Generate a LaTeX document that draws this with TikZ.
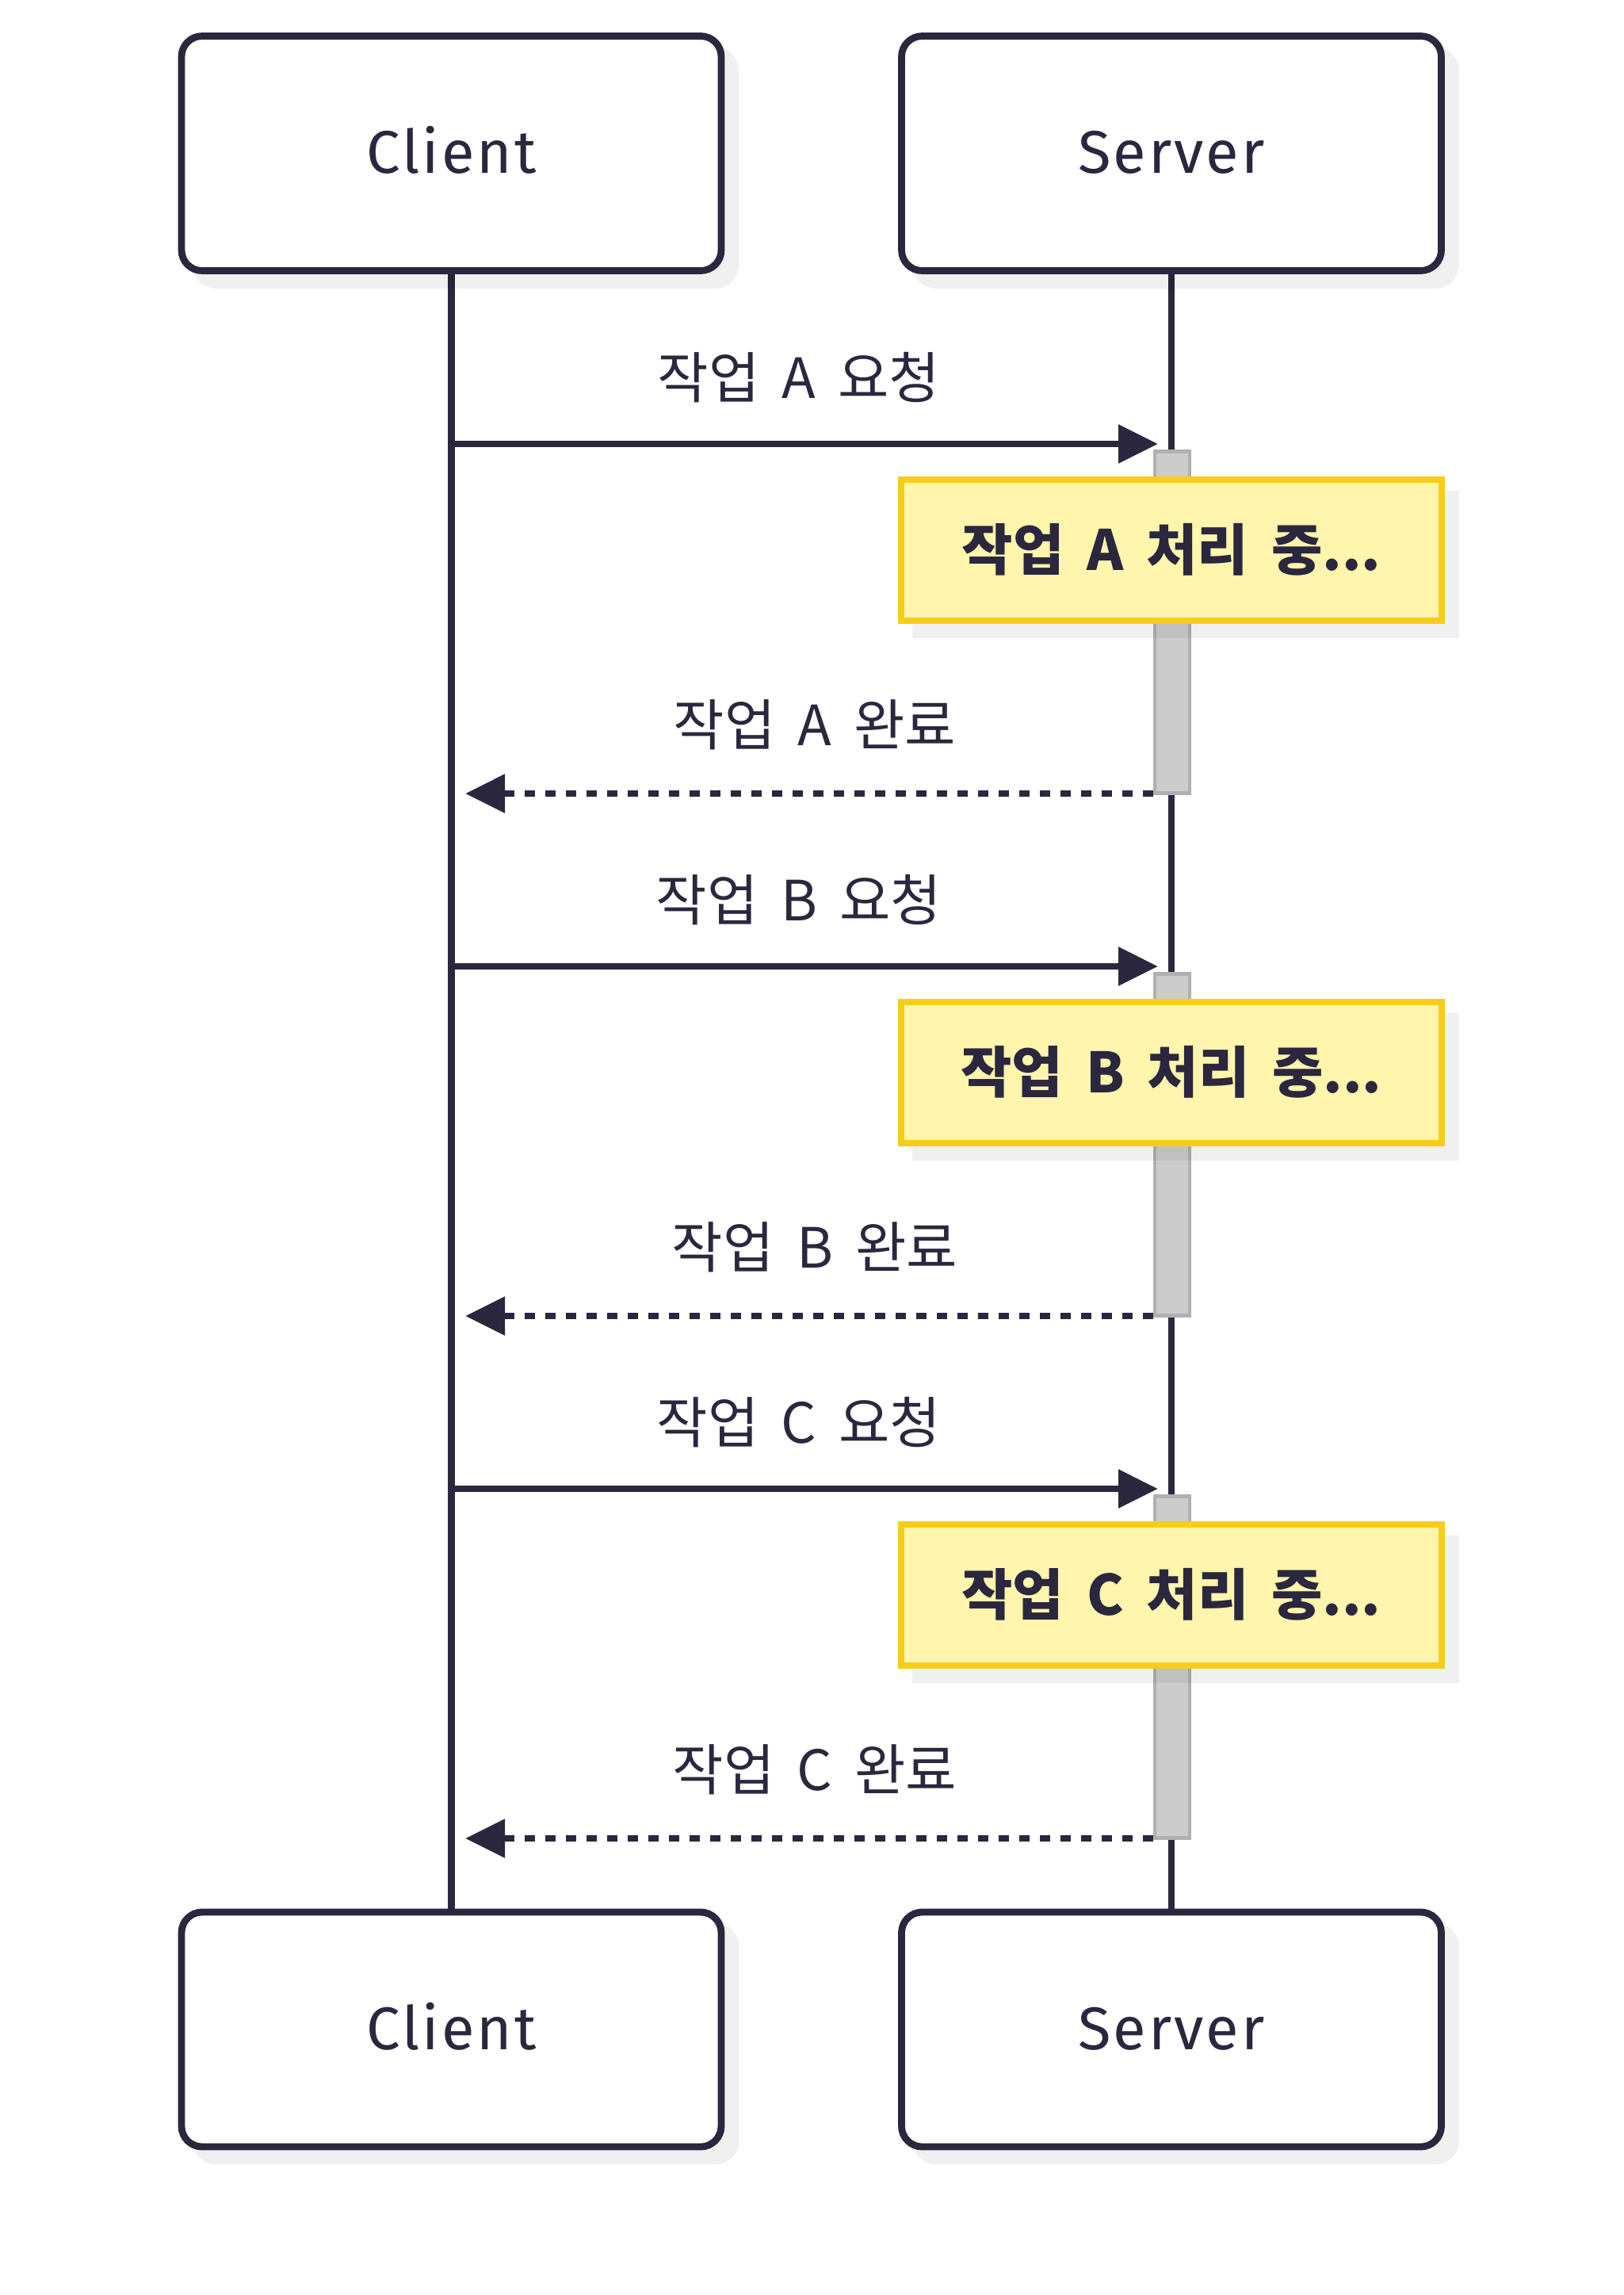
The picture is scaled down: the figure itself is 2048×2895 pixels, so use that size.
\documentclass[tikz,border=0pt]{standalone}
\usepackage{fontspec}
\setmainfont[LetterSpace=4]{Fira Sans}
\newfontfamily\krfont[WordSpace=1.8]{Noto Sans CJK KR}
\usetikzlibrary{arrows.meta, positioning}
\definecolor{ink}{HTML}{2A273E}
\definecolor{noteFill}{HTML}{FFF5AD}
\definecolor{noteLine}{HTML}{F8CD1A}
\definecolor{barFill}{HTML}{CCCCCC}
\definecolor{barLine}{HTML}{B0B0B0}
\pgfdeclarelayer{life}
\pgfdeclarelayer{shadelayer}
\pgfsetlayers{life,shadelayer,main}
\tikzset{
    actor/.style={draw=ink, line width=8.8pt, rounded corners=26pt, fill=white,
        minimum width=681pt, minimum height=296pt, inner sep=0pt,
        text height=51pt, text depth=0pt, text=ink, font=\fontsize{76pt}{90pt}\selectfont},
    note/.style={draw=noteLine, line width=8.8pt, fill=noteFill,
        minimum width=682pt, minimum height=178pt, inner sep=0pt,
        text height=50pt, text depth=0pt, text=ink, font=\krfont\bfseries\fontsize{70pt}{84pt}\selectfont},
    actbar/.style={draw=barLine, line width=4.4pt, fill=barFill,
        minimum width=44pt, minimum height=431pt, inner sep=0pt},
    msg/.style={anchor=base, inner sep=0pt, text=ink, font=\krfont\fontsize{70pt}{84pt}\selectfont},
    call/.style={draw=ink, line width=8.8pt, -{Triangle[length=50pt, width=47pt]}},
    reply/.style={call, dash pattern=on 13pt off 13pt},
    dropshade/.style={fill=black, opacity=0.06}
}
\begin{document}
\begin{tikzpicture}[x=1pt, y=-1pt]
    \useasboundingbox (0,0) rectangle (2048,2895);
    % 참가자
    \node[actor] (cTop) at (569.5,193.5) {Client};
    \node[actor] (sTop) at (1478,193.5) {Server};
    \node[actor] (cBot) at (569.5,2560) {Client};
    \node[actor] (sBot) at (1478,2560) {Server};

    % 작업 A
    \node[msg] (reqA) at (1008,502) {작업 A 요청};
    \coordinate (reqAend) at (1461,560);
    \draw[call] (cTop.south |- reqAend) -- (reqAend);
    \node[note] (noteA) at (1478,694) {작업 A 처리 중...};
    \node[msg] (resA) at (1028,940) {작업 A 완료};
    \coordinate (resAend) at (587,1001);

    % 작업 B
    \node[msg] (reqB) at (1008,1161) {작업 B 요청};
    \coordinate (reqBend) at (1461,1219);
    \draw[call] (cTop.south |- reqBend) -- (reqBend);
    \node[note] (noteB) at (1478,1353) {작업 B 처리 중...};
    \node[msg] (resB) at (1028,1599) {작업 B 완료};
    \coordinate (resBend) at (587,1660);

    % 작업 C
    \node[msg] (reqC) at (1008,1820) {작업 C 요청};
    \coordinate (reqCend) at (1461,1878);
    \draw[call] (cTop.south |- reqCend) -- (reqCend);
    \node[note] (noteC) at (1478,2012) {작업 C 처리 중...};
    \node[msg] (resC) at (1028,2258) {작업 C 완료};
    \coordinate (resCend) at (587,2319);

    % 생명선과 활성 막대
    \begin{pgfonlayer}{life}
        \draw[ink, line width=8.8pt] (cTop.south) -- (cBot.north);
        \draw[ink, line width=8.8pt] (sTop.south) -- (sBot.north);
        \node[actbar] (barA) at (1479,785) {};
        \node[actbar] (barB) at (1479,1444) {};
        \node[actbar] (barC) at (1479,2103) {};
    \end{pgfonlayer}
    \draw[reply] (barA.west |- resAend) -- (resAend);
    \draw[reply] (barB.west |- resBend) -- (resBend);
    \draw[reply] (barC.west |- resCend) -- (resCend);

    % 그림자
    \begin{pgfonlayer}{shadelayer}
        \foreach \n in {cTop, sTop, cBot, sBot}
            \fill[dropshade, rounded corners=30pt] ([shift={(18,18)}]\n.north west) rectangle ([shift={(18,18)}]\n.south east);
        \foreach \n in {noteA, noteB, noteC}
            \fill[dropshade] ([shift={(18,18)}]\n.north west) rectangle ([shift={(18,18)}]\n.south east);
    \end{pgfonlayer}
\end{tikzpicture}
\end{document}
